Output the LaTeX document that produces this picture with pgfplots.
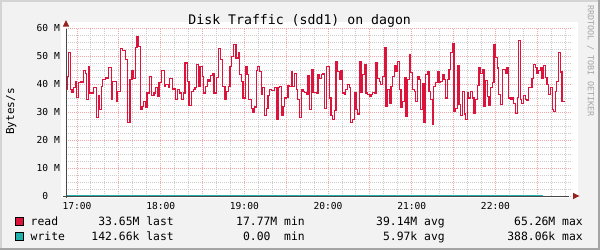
\documentclass[border=0pt]{standalone}
\usepackage{pgfplots}
\pgfplotsset{compat=1.18}
\usepackage{fontspec}
\setmainfont{DejaVu Sans Mono}
\definecolor{bg}{HTML}{F2F2F2}
\definecolor{shadeA}{HTML}{D4D4D4}
\definecolor{shadeB}{HTML}{A4A4A4}
\definecolor{majgrid}{HTML}{F4A6A6}
\definecolor{mingrid}{HTML}{CCCCCC}
\definecolor{axiscol}{HTML}{484848}
\definecolor{arrowcol}{HTML}{962222}
\definecolor{readcol}{HTML}{DC143C}
\definecolor{writecol}{HTML}{20B2AA}
\definecolor{wmark}{HTML}{A6A6A6}
\begin{document}
\begin{tikzpicture}[x=1pt,y=1pt]
\useasboundingbox (0,0) rectangle (600,250);
\fill[bg] (0,0) rectangle (600,250);
\fill[shadeA] (0,0) rectangle (2,250);
\fill[shadeA] (0,248) rectangle (600,250);
\fill[shadeB] (598,0) rectangle (600,250);
\fill[shadeB] (0,0) rectangle (600,2);
\fill[white] (61,52) rectangle (578,228);
\node[anchor=base, inner sep=0pt, font=\fontsize{13.2}{15}\selectfont] at (299.7,226) {Disk Traffic (sdd1) on dagon};
\node[rotate=-90, anchor=west, inner sep=0pt, text=wmark, font=\fontsize{8.4}{9}\selectfont] at (590.7,245) {RRDTOOL / TOBI OETIKER};
\node[rotate=90, anchor=base, inner sep=0pt, font=\fontsize{11}{13}\selectfont] at (14,138.5) {Bytes/s};
\begin{axis}[
  at={(66pt,54pt)}, anchor=south west, scale only axis,
  width=506pt, height=168pt,
  xmin=-7.9, xmax=354.9, ymin=0, ymax=60,
  clip=false,
  axis line style={draw=none},
  major tick length=0pt, minor tick length=0pt,
  xtick={0,30,60,90,120,150,180,210,240,270,300,330},
  xticklabels={17:00,,18:00,,19:00,,20:00,,21:00,,22:00,},
  minor xtick={10,20,40,50,70,80,100,110,130,140,160,170,190,200,220,230,250,260,280,290,310,320,340,350},
  ytick={0,10,20,30,40,50,60},
  yticklabels={0\phantom{\ M},10 M,20 M,30 M,40 M,50 M,60 M},
  minor ytick={2.5,5,7.5,12.5,15,17.5,22.5,25,27.5,32.5,35,37.5,42.5,45,47.5,52.5,55,57.5},
  grid=both,
  major grid style={draw=majgrid, line width=1pt, dash pattern=on 1pt off 1pt},
  minor grid style={draw=mingrid, line width=1pt, dash pattern=on 1pt off 1pt},
  xticklabel style={font=\fontsize{9.6}{11}\selectfont, anchor=north, inner sep=0pt, yshift=-5.7pt},
  yticklabel style={font=\fontsize{9.6}{11}\selectfont, anchor=east, inner sep=0pt, xshift=-6pt},
]
\draw[axiscol, line width=1pt] (axis cs:-10.0,0) -- (axis cs:352.8,0);
\draw[axiscol, line width=1pt] (axis cs:-7.9,-0.6) -- (axis cs:-7.9,59.6);
\addplot[const plot, readcol, line width=1.1pt] table {
x y
-7.4 38.0
-6.8 42.7
-6.2 51.1
-4.8 38.0
-3.6 37.1
-2.4 38.6
-1.2 40.7
-0.2 35.2
1.2 40.6
2.4 40.7
4.8 44.9
6.0 43.9
6.9 34.4
8.1 46.3
9.1 36.8
11.9 38.6
13.9 27.9
15.1 36.0
16.0 30.8
17.4 39.2
18.4 41.5
20.3 42.4
21.5 41.9
22.7 46.0
24.4 34.4
25.1 41.0
28.2 33.8
29.2 37.4
31.1 52.6
32.7 51.9
34.7 48.7
36.1 26.1
38.0 41.5
39.4 44.8
40.6 42.1
41.8 52.9
43.0 57.0
44.2 53.5
45.4 30.8
46.6 32.0
47.8 33.8
49.0 31.8
50.2 36.8
51.9 42.7
53.7 35.8
55.2 36.8
56.4 38.8
57.6 35.6
58.8 40.4
60.7 44.8
62.6 39.2
63.5 39.8
65.4 38.6
66.6 41.9
68.3 38.0
69.5 38.3
70.9 34.4
71.9 38.0
73.8 36.8
75.0 34.4
76.2 36.8
77.4 47.5
79.1 41.0
80.3 32.4
82.2 37.4
83.4 38.0
84.6 38.6
85.8 46.9
87.0 39.2
88.2 46.3
89.8 42.7
91.0 36.8
92.2 39.2
93.4 41.5
94.6 41.0
95.8 43.1
97.0 43.7
98.2 36.8
100.1 42.4
101.3 52.6
103.0 48.7
104.2 39.2
106.1 34.4
107.3 37.4
108.5 39.2
109.7 46.3
110.9 49.9
112.1 54.0
114.0 49.3
115.6 51.4
116.8 43.3
117.8 41.0
119.0 35.0
120.7 46.3
121.9 43.3
123.0 34.4
125.0 31.4
126.2 30.0
127.4 31.8
128.5 44.8
129.7 46.3
130.9 44.5
132.1 36.2
133.3 38.6
134.5 28.8
135.7 31.4
136.9 35.8
138.1 38.0
139.3 37.7
141.7 38.6
142.9 27.3
144.1 38.6
145.3 39.2
146.5 28.8
147.7 32.0
148.9 35.0
150.1 35.2
151.3 39.5
152.4 39.2
153.6 44.5
154.8 39.2
156.0 43.6
157.2 38.0
158.4 34.4
159.6 28.1
160.8 38.0
162.0 37.4
163.2 37.1
164.4 36.2
165.6 43.1
166.8 30.8
168.0 45.1
169.2 37.1
170.4 37.0
171.6 36.8
172.8 43.3
174.0 42.1
175.2 43.3
176.4 43.6
177.5 31.4
178.7 46.2
180.9 35.0
182.1 28.8
183.3 27.3
184.5 30.5
185.7 47.9
186.9 44.5
188.1 41.5
189.3 44.8
190.5 36.8
191.6 36.2
192.8 38.0
194.0 39.8
195.2 38.6
196.4 26.1
197.6 27.3
198.8 37.1
200.0 30.8
201.2 29.3
202.4 47.9
203.6 37.0
204.8 43.3
206.0 46.9
207.2 36.8
208.4 36.2
209.6 35.4
210.8 36.2
212.0 37.1
213.2 36.8
214.4 47.5
215.5 42.1
216.7 41.0
217.9 39.8
219.1 42.7
220.3 52.9
221.5 32.0
222.7 38.0
223.9 33.2
225.1 39.2
226.3 42.7
227.5 46.7
228.7 44.5
229.9 48.1
231.1 38.0
232.3 31.7
233.5 33.6
234.7 42.4
235.9 28.5
237.1 41.5
238.3 50.5
239.4 44.2
240.6 38.0
241.8 37.4
242.8 33.8
244.0 42.7
245.2 41.5
246.4 30.8
247.6 40.0
248.8 26.1
250.0 43.3
251.2 44.5
252.4 37.4
253.6 34.4
254.7 25.5
255.9 39.2
257.1 40.4
258.3 44.5
259.5 40.4
260.7 41.0
261.9 43.3
263.1 41.5
264.3 35.0
265.5 41.5
266.7 45.1
267.9 51.4
269.1 54.6
270.3 30.2
271.5 31.4
272.7 46.7
273.9 32.6
275.1 28.8
276.3 37.4
277.5 29.3
278.6 27.3
279.8 36.8
281.0 35.0
282.2 37.4
283.4 35.0
284.6 29.6
285.8 34.4
287.0 39.5
288.2 46.0
289.4 43.9
290.6 45.1
291.8 32.0
293.0 41.2
294.2 35.6
295.4 32.4
296.6 38.6
297.8 40.4
299.0 54.0
300.2 49.5
301.4 45.7
302.5 36.2
303.7 32.6
304.9 45.1
307.1 43.6
308.3 45.7
309.5 35.0
310.7 34.4
311.9 35.0
313.1 32.9
314.3 29.6
315.5 35.2
316.7 55.6
317.8 34.4
319.0 32.9
320.2 35.8
321.4 34.4
322.6 34.0
323.8 38.8
325.0 38.6
326.2 42.1
327.4 47.1
328.6 46.0
329.8 43.9
331.0 44.8
332.2 45.7
333.4 42.1
334.6 46.5
335.8 42.4
337.0 39.8
338.2 36.2
339.4 38.6
340.6 30.8
341.7 30.2
342.9 37.4
344.1 41.0
345.3 51.4
346.5 44.3
347.7 33.6
349.6 33.6
};
\addplot[const plot, writecol, line width=1pt] table {
x y
-7.4 0.05
30 0.12
80 0.02
120 0.15
160 0.06
200 0.14
250 0.03
290 0.10
334 0.14
};
\end{axis}
\fill[arrowcol] (579.5,54) -- (573,50.8) -- (573,57.2) -- cycle;
\fill[arrowcol] (66,230) -- (62.8,223.5) -- (69.2,223.5) -- cycle;
% legend
\begin{scope}[font=\fontsize{11.4}{13}\selectfont]
\draw[fill=readcol, draw=black, line width=0.8pt] (15.4,24.4) rectangle (23.6,32.6);
\draw[fill=writecol, draw=black, line width=0.8pt] (15.4,9.4) rectangle (23.6,17.6);
\node[anchor=base west, inner sep=0pt] at (30.5,24.5) {read};
\node[anchor=base east, inner sep=0pt] at (174,24.5) {33.65M last};
\node[anchor=base east, inner sep=0pt] at (305,24.5) {17.77M min};
\node[anchor=base east, inner sep=0pt] at (445,24.5) {39.14M avg};
\node[anchor=base east, inner sep=0pt] at (583,24.5) {65.26M max};
\node[anchor=base west, inner sep=0pt] at (30.5,10) {write};
\node[anchor=base east, inner sep=0pt] at (174,10) {142.66k last};
\node[anchor=base east, inner sep=0pt] at (305,10) {0.00\ \ min};
\node[anchor=base east, inner sep=0pt] at (445,10) {5.97k avg};
\node[anchor=base east, inner sep=0pt] at (583,10) {388.06k max};
\end{scope}
\end{tikzpicture}
\end{document}
